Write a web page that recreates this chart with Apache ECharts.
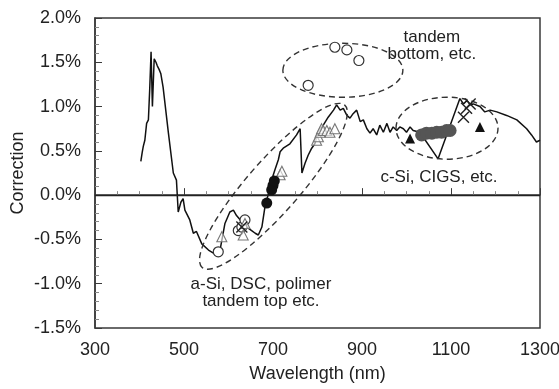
<!DOCTYPE html>
<html><head><meta charset="utf-8">
<script src="https://cdn.jsdelivr.net/npm/echarts@6/dist/echarts.min.js"></script>
<style>html,body{margin:0;padding:0;background:#fff}#c{width:559px;height:389px}</style>
</head><body><div id="c"></div>
<script>
// Measured correction spectrum
var wavelength = [403,406,408.5,412,416,420,423,426,429,433,437,440,444,448,453,465,476,483,487,493,498,502,513,521,528,540,555,568,581,592,603,611,618,630,641,652,660,667,675,682,690,697,704,712,716,723,738,753,761,765,772,779,787,794,802,813,824,836,843,851,858,866,873,880,888,896,903,911,918,925,933,940,948,956,963,970,978,985,993,1000,1008,1015,1030,1071,1120,1128,1136,1143,1150,1165,1176,1188,1203,1225,1248,1270,1281,1292,1300];
var correction = [0.38,0.48,0.55,0.62,0.81,0.85,1.2,1.62,1.0,1.54,1.50,1.46,1.42,1.37,1.22,0.70,0.25,0.17,-0.19,-0.08,-0.04,-0.17,-0.28,-0.43,-0.41,-0.55,-0.62,-0.66,-0.62,-0.32,-0.19,-0.17,-0.23,-0.30,-0.36,-0.40,-0.43,-0.45,-0.36,-0.13,0.02,0.17,0.28,0.40,0.49,0.53,0.58,0.68,0.75,0.25,0.36,0.45,0.53,0.58,0.71,0.79,0.88,0.96,1.02,0.96,0.98,0.90,0.87,0.92,0.96,0.83,0.85,0.75,0.70,0.75,0.68,0.79,0.71,0.81,0.71,0.77,0.73,0.77,0.75,0.71,0.77,0.73,0.71,0.41,1.09,1.03,1.07,1.02,1.03,1.00,0.94,0.96,0.94,0.90,0.85,0.75,0.68,0.60,0.62];

// Device results
var openCircleX = [577,622,630,637,779,839,866,893];
var openCircleY = [-0.64,-0.40,-0.36,-0.28,1.24,1.67,1.64,1.52];
var openTriX = [585,633,637,716,720,798,802,806,809,813,821,828,839];
var openTriY = [-0.47,-0.45,-0.32,0.23,0.27,0.62,0.66,0.71,0.75,0.73,0.73,0.71,0.75];
var blackCircleX = [686,697,700,703];
var blackCircleY = [-0.09,0.06,0.11,0.16];
var grayCircleX = [1034,1045,1057,1068,1079,1090,1098];
var grayCircleY = [0.68,0.70,0.70,0.71,0.71,0.73,0.73];
var filledTriX = [1008,1165];
var filledTriY = [0.64,0.77];
var crossX = [630,1128,1135,1143];
var crossY = [-0.36,0.88,0.98,1.03];

// Axis ticks
var xTicks = [300,500,700,900,1100,1300];
var yTicks = [-1.5,-1.0,-0.5,0.0,0.5,1.0,1.5,2.0];

// Annotations (data coords)
var groupLabels = ['tandem\nbottom, etc.', 'a-Si, DSC, polimer\ntandem top etc.', 'c-Si, CIGS, etc.'];
var groupLabelX = [1057, 673, 1073];
var groupLabelY = [1.69, -1.10, 0.20];
var ellipseX = [857, 701, 1091];
var ellipseY = [1.41, 0.10, 0.756];

function zip(a,b){return a.map(function(v,i){return [v,b[i]];});}

var FONT = 'Liberation Sans, Arial, sans-serif';
var chart = echarts.init(document.getElementById('c'));
var axisCol = '#3a3a3a';
var mk = function(name, xs, ys, symbol, size, fill, stroke, bw){
  return {type:'scatter', name:name, data:zip(xs,ys), symbol:symbol, symbolSize:size,
    itemStyle:{color:fill, borderColor:stroke, borderWidth:bw, opacity:1}, z:5, silent:true};
};
chart.setOption({
  animation:false,
  backgroundColor:'#fff',
  grid:{left:95, right:19, top:18, bottom:61, show:true, borderColor:axisCol, borderWidth:1.5,
    containLabel:false, outerBoundsMode:'none'},
  xAxis:{type:'value', min:300, max:1300, interval:200,
    name:'Wavelength (nm)', nameLocation:'middle', nameGap:37, nameMoveOverlap:false,
    nameTextStyle:{fontFamily:FONT, fontSize:18, color:'#222'},
    axisLine:{lineStyle:{color:axisCol, width:1.5}},
    axisTick:{inside:true, length:7, lineStyle:{color:axisCol}},
    minorTick:{show:true, splitNumber:4, length:4, lineStyle:{color:'#888'}},
    axisLabel:{fontFamily:FONT, fontSize:18, color:'#222', margin:13, hideOverlap:false,
      formatter:function(v){return String(v);}},
    splitLine:{show:false}},
  yAxis:{type:'value', min:-1.5, max:2.0, interval:0.5,
    name:'Correction', nameLocation:'middle', nameGap:68, nameMoveOverlap:false,
    nameTextStyle:{fontFamily:FONT, fontSize:18, color:'#222'},
    axisLine:{onZero:false, lineStyle:{color:axisCol, width:1.5}},
    axisTick:{inside:true, length:7, lineStyle:{color:axisCol}},
    minorTick:{show:true, splitNumber:5, length:4, lineStyle:{color:'#888'}},
    axisLabel:{fontFamily:FONT, fontSize:18, color:'#222', margin:14,
      formatter:function(v){return v.toFixed(1)+'%';}},
    splitLine:{show:false}},
  series:[
    {type:'line', data:zip(wavelength, correction), symbol:'none', z:3, silent:true,
      lineStyle:{color:'#111', width:1.5},
      markLine:{silent:true, symbol:'none', label:{show:false},
        lineStyle:{color:'#222', width:1.3, type:'solid'}, data:[{yAxis:0}]}},
    mk('openCircle', openCircleX, openCircleY, 'circle', 10, '#fff', '#333', 1.2),
    mk('openTri', openTriX, openTriY, 'triangle', 10, 'rgba(255,255,255,0.6)', '#777', 1.1),
    mk('blackCircle', blackCircleX, blackCircleY, 'circle', 11, '#111', '#111', 0),
    mk('grayCircle', grayCircleX, grayCircleY, 'circle', 13, '#555', '#555', 0),
    mk('filledTri', filledTriX, filledTriY, 'triangle', 10, '#111', '#111', 0),
    mk('cross', crossX, crossY, 'path://M0,0L10,10M10,0L0,10', 11, 'none', '#222', 1.4)
  ]
});

var ellSize = [[60,27,0],[108,26,0.85],[51,31,0]];
var els = [];
ellipseX.forEach(function(x,i){
  var p = chart.convertToPixel({gridIndex:0},[x, ellipseY[i]]);
  els.push({type:'ellipse', x:p[0], y:p[1], rotation:ellSize[i][2], z:4, silent:true,
    shape:{cx:0, cy:0, rx:ellSize[i][0], ry:ellSize[i][1]},
    style:{fill:null, stroke:'#333', lineWidth:1.4, lineDash:[6,4]}});
});
groupLabels.forEach(function(t,i){
  var p = chart.convertToPixel({gridIndex:0},[groupLabelX[i], groupLabelY[i]]);
  els.push({type:'text', x:p[0], y:p[1], z:6, silent:true,
    style:{text:t, fontFamily:FONT, fontSize:17, fill:'#222', align:'center', verticalAlign:'middle', lineHeight:17}});
});
chart.setOption({graphic:{elements:els}});
</script></body></html>
